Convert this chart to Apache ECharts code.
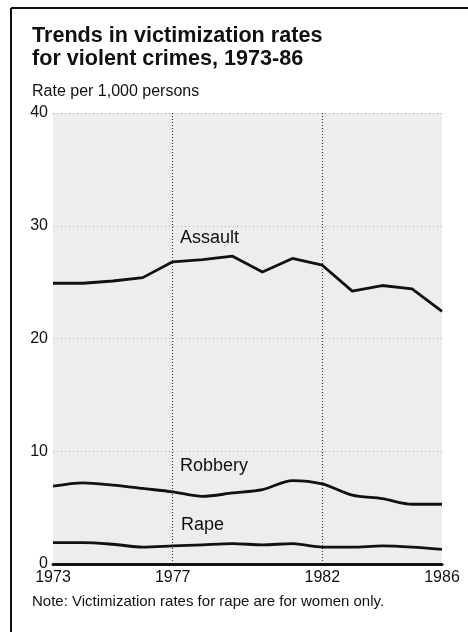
<!DOCTYPE html>
<html>
<head>
<meta charset="utf-8">
<script src="https://cdn.jsdelivr.net/npm/echarts@6/dist/echarts.min.js"></script>
<style>
html,body{margin:0;padding:0;background:#fff;}
#chart{width:468px;height:632px;}
</style>
</head>
<body>
<div id="chart"></div>
<script>
const years = ['1973','1974','1975','1976','1977','1978','1979','1980','1981','1982','1983','1984','1985','1986'];
const labeledYears = ['1973','1977','1982','1986'];
const gridYears = ['1977','1982'];
const assault = [24.9, 24.9, 25.1, 25.4, 26.8, 27.0, 27.3, 25.9, 27.1, 26.5, 24.2, 24.7, 24.4, 22.4];
const robbery = [6.9, 7.2, 7.0, 6.7, 6.4, 6.0, 6.3, 6.6, 7.4, 7.1, 6.1, 5.8, 5.3, 5.3];
const rape = [1.9, 1.9, 1.75, 1.5, 1.6, 1.7, 1.8, 1.7, 1.8, 1.5, 1.5, 1.6, 1.5, 1.3];
const yTicks = [0, 10, 20, 30, 40];

const FONT = '"Liberation Sans", Arial, Helvetica, sans-serif';
const chart = echarts.init(document.getElementById('chart'), null, {renderer: 'canvas'});

function line(name, data, smooth) {
  return {
    name: name, type: 'line', data: data, smooth: smooth, symbol: 'none',
    lineStyle: {color: '#111', width: 2.8}, z: 3
  };
}

chart.setOption({
  animation: false,
  backgroundColor: '#fff',
  grid: {left: 53, right: 26, top: 113, bottom: 68, show: true, backgroundColor: '#ededed', borderWidth: 0},
  xAxis: {
    type: 'category', data: years, boundaryGap: false,
    axisLine: {show: true, lineStyle: {color: '#111', width: 3}},
    axisTick: {show: false},
    axisLabel: {
      interval: (i, v) => labeledYears.includes(v),
      color: '#111', fontFamily: FONT, fontSize: 16, margin: 6
    },
    splitLine: {
      show: true,
      interval: (i, v) => gridYears.includes(v),
      lineStyle: {color: '#444', type: [1, 2], width: 1.2}
    }
  },
  yAxis: {
    type: 'value', min: yTicks[0], max: yTicks[yTicks.length - 1], interval: 10,
    axisLine: {show: false}, axisTick: {show: false},
    axisLabel: {color: '#111', fontFamily: FONT, fontSize: 16, margin: 5},
    splitLine: {show: true, lineStyle: {color: '#aaa', type: [1, 3], width: 1}}
  },
  series: [
    line('Assault', assault, false),
    line('Robbery', robbery, 0.3),
    line('Rape', rape, 0.3)
  ],
  graphic: [
    {type: 'line', shape: {x1: 11, y1: 8, x2: 11, y2: 632}, style: {stroke: '#111', lineWidth: 2}},
    {type: 'line', shape: {x1: 11, y1: 8, x2: 468, y2: 8}, style: {stroke: '#111', lineWidth: 2}},
    {type: 'text', left: 32, top: 25, style: {text: 'Trends in victimization rates\nfor violent crimes, 1973-86', font: 'bold 21.6px ' + FONT, fill: '#111', lineHeight: 23}},
    {type: 'text', left: 32, top: 84, style: {text: 'Rate per 1,000 persons', font: '16px ' + FONT, fill: '#111'}},
    {type: 'text', left: 180, top: 229, style: {text: 'Assault', font: '18px ' + FONT, fill: '#111'}, z: 10},
    {type: 'text', left: 180, top: 457, style: {text: 'Robbery', font: '18px ' + FONT, fill: '#111'}, z: 10},
    {type: 'text', left: 181, top: 516, style: {text: 'Rape', font: '18px ' + FONT, fill: '#111'}, z: 10},
    {type: 'text', left: 32, top: 594, style: {text: 'Note: Victimization rates for rape are for women only.', font: '15px ' + FONT, fill: '#111'}}
  ]
});
</script>
</body>
</html>
